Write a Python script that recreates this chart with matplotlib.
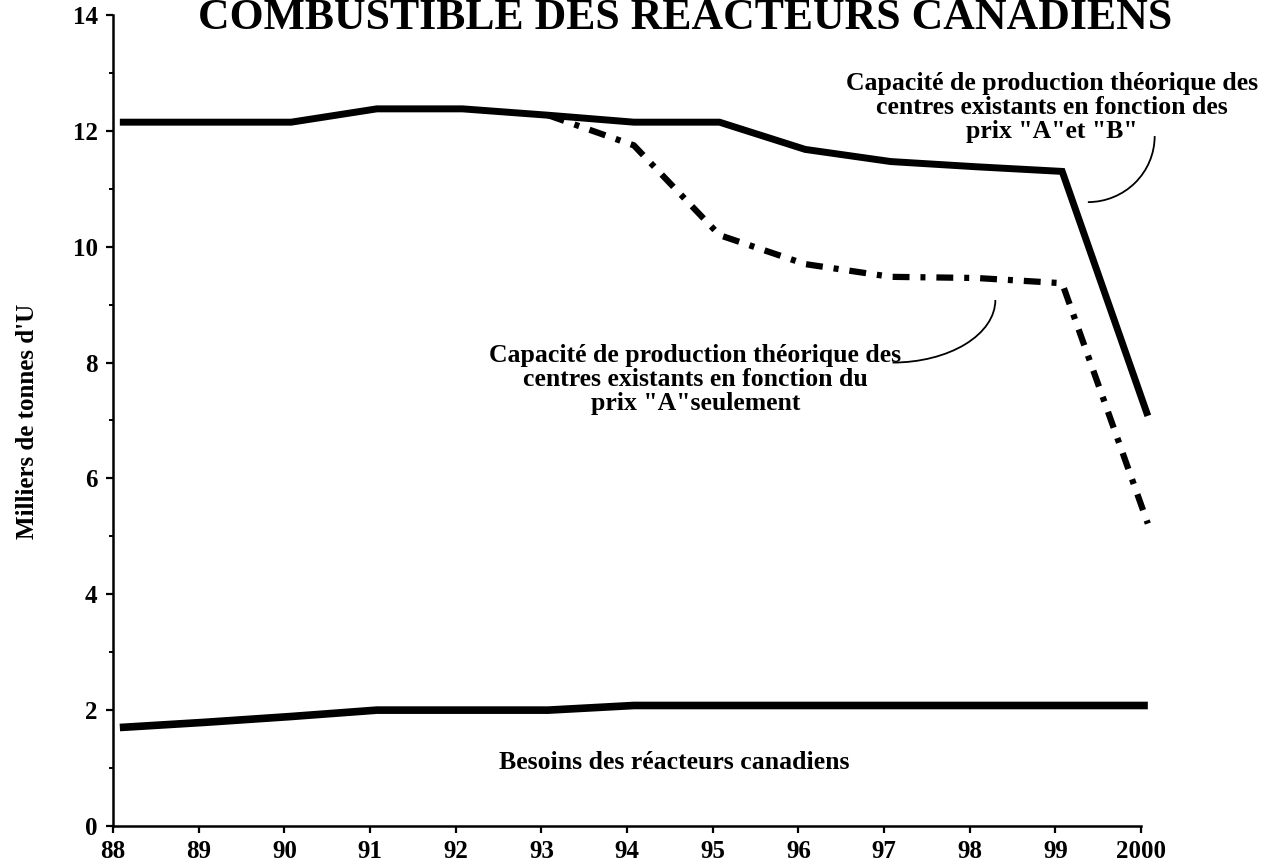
import numpy as np
import matplotlib
matplotlib.use("Agg")
import matplotlib.pyplot as plt
from matplotlib.patches import Arc

# Data (thousands of tonnes U), years 1988-2000
YEARS = [88, 89, 90, 91, 92, 93, 94, 95, 96, 97, 98, 99, 100]
YEAR_LABELS = ["88", "89", "90", "91", "92", "93", "94", "95", "96", "97", "98", "99", "2000"]
CAPACITY_AB = [12.15, 12.15, 12.15, 12.38, 12.38, 12.27, 12.15, 12.15, 11.68, 11.47, 11.38, 11.30, 7.08]
CAPACITY_A = [np.nan, np.nan, np.nan, np.nan, np.nan, 12.27, 11.75, 10.20, 9.70, 9.48, 9.46, 9.37, 5.22]
NEEDS = [1.70, 1.79, 1.89, 2.00, 2.00, 2.00, 2.08, 2.08, 2.08, 2.08, 2.08, 2.08, 2.08]

TITLE = "COMBUSTIBLE DES RÉACTEURS CANADIENS"
YLABEL = "Milliers de tonnes d'U"
LABEL_AB = 'Capacité de production théorique des\ncentres existants en fonction des\nprix "A"et "B"'
LABEL_A = 'Capacité de production théorique des\ncentres existants en fonction du\nprix "A"seulement'
LABEL_NEEDS = "Besoins des réacteurs canadiens"

X_OFFSET = 0.08  # values are plotted just after each year tick

plt.rcParams["font.family"] = ["Liberation Serif", "DejaVu Serif"]
plt.rcParams["font.weight"] = "bold"

fig = plt.figure(figsize=(12.71, 8.63), dpi=100)
ax = fig.add_axes([0.0889, 0.0429, 0.8088, 0.9397])

x = np.array(YEARS, dtype=float) + X_OFFSET
ax.plot(x, CAPACITY_AB, color="black", lw=5, solid_joinstyle="miter",
        solid_capstyle="butt", clip_on=False)
ax.plot(x, CAPACITY_A, color="black", lw=4.5, linestyle=(0, (2.7, 1.75, 0.8, 1.75)),
        dash_capstyle="butt", dash_joinstyle="miter", clip_on=False)
ax.plot(x, NEEDS, color="black", lw=5.5, solid_capstyle="butt", clip_on=False)

ax.set_xlim(88, 100)
ax.set_ylim(0, 14)
ax.set_xticks(YEARS)
ax.set_xticklabels(YEAR_LABELS)
ax.set_yticks(range(0, 15, 2))
ax.set_yticks(range(1, 14, 2), minor=True)
ax.tick_params(axis="both", which="major", length=5, width=1.6, labelsize=18, direction="out")
ax.tick_params(axis="y", which="minor", length=3, width=1.4)
ax.tick_params(axis="y", which="major", pad=6)
ax.tick_params(axis="x", which="major", pad=5)
for s in ["top", "right"]:
    ax.spines[s].set_visible(False)
for s in ["left", "bottom"]:
    ax.spines[s].set_linewidth(1.8)

# labels and leader arcs
ax.text(98.96, 12.40, LABEL_AB, ha="center", va="center", fontsize=18.5,
        linespacing=1.05, clip_on=False)
ax.add_patch(Arc((99.38, 11.91), 2 * 0.78, 2 * 1.14, theta1=270, theta2=360,
                 color="black", lw=1.3, clip_on=False))

ax.text(94.8, 7.71, LABEL_A, ha="center", va="center", fontsize=18.5, linespacing=1.05)
ax.add_patch(Arc((97.1, 9.08), 2 * 1.2, 2 * 1.08, theta1=270, theta2=360,
                 color="black", lw=1.3))

ax.text(94.55, 1.1, LABEL_NEEDS, ha="center", va="center", fontsize=18.5)

fig.text(0.539, 1 - 29 / 863, TITLE, ha="center", va="baseline", fontsize=31.5)
fig.text(28 / 1271, 1 - 421 / 863, YLABEL, rotation=90, ha="center", va="center", fontsize=18)

fig.savefig("out.png", dpi=100)
